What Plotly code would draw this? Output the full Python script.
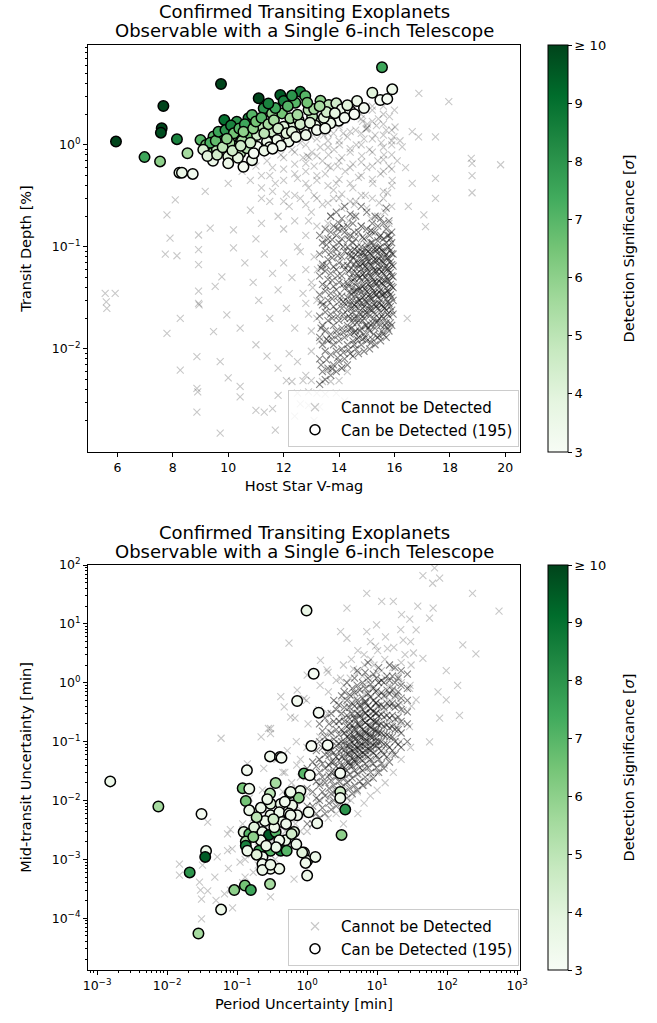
import plotly.graph_objects as go

# ---- data ----
# top panel: host star V magnitude vs transit depth [%], planets that cannot be detected
undet_top = [
    (5.56, 0.035), (5.92, 0.035), (5.6, 0.029), (5.62, 0.025),
    (7.79, 0.206), (8.09, 0.29), (7.9, 0.122), (7.73, 0.085), (8.15, 0.082),
    (8.93, 0.131), (8.93, 0.094), (8.93, 0.067), (9.35, 0.153), (9.17, 0.35),
    (10.0, 0.42), (10.19, 0.147), (10.19, 0.098), (9.53, 0.041), (9.77, 0.051),
    (8.93, 0.037), (8.95, 0.027), (7.79, 0.0142), (8.27, 0.020), (8.27, 0.0062),
    (8.87, 0.0084), (8.87, 0.0041), (8.9, 0.0038), (8.87, 0.0024), (9.71, 0.0075),
    (9.47, 0.0148), (9.71, 0.0015), (10.0, 0.0052), (10.43, 0.0043), (10.43, 0.0034),
    (10.43, 0.016), (9.95, 0.0216), (8.93, 0.028),
    (18.8, 0.66), (18.8, 0.5), (18.8, 0.34), (18.77, 0.74), (19.83, 0.64),
    (17.96, 2.66), (16.88, 3.2), (17.48, 1.2), (17.48, 0.47), (17.48, 0.30),
    (16.87, 1.2), (16.64, 1.35), (17.06, 0.206), (17.12, 0.158), (16.64, 0.42),
    (16.46, 0.020), (16.4, 0.6), (16.28, 0.96), (15.98, 1.2), (16.5, 0.25),
    (10.5, 0.55), (10.8, 0.45), (11.0, 0.62), (11.2, 0.38), (11.4, 0.7),
    (11.5, 0.5), (11.7, 0.42), (11.9, 0.8), (12.0, 0.58), (12.1, 0.33),
    (12.3, 0.9), (12.4, 0.65), (12.5, 0.47), (12.6, 1.05), (12.7, 0.75),
    (12.8, 0.55), (12.9, 0.38), (13.0, 1.2), (13.02, 0.85), (13.1, 0.62),
    (13.2, 0.45), (13.3, 1.35), (13.32, 0.95), (13.4, 0.7), (13.5, 0.52),
    (13.52, 1.55), (13.6, 1.1), (13.62, 0.8), (13.7, 0.6), (13.8, 1.3),
    (13.82, 0.9), (13.9, 0.42), (14.0, 1.5), (14.02, 1.0), (14.1, 0.75),
    (14.2, 1.75), (14.22, 0.55), (14.3, 1.2), (14.4, 0.85), (14.42, 1.9),
    (14.5, 0.65), (14.6, 1.4), (14.62, 1.0), (14.7, 0.48), (14.8, 2.0),
    (14.82, 0.78), (14.9, 1.15), (15.0, 0.6), (15.02, 1.6), (15.1, 0.9),
    (15.2, 2.2), (15.22, 0.42), (15.3, 1.25), (15.4, 0.7), (15.42, 1.8),
    (15.5, 0.52), (15.52, 1.05), (15.6, 2.4), (15.62, 0.8), (15.7, 1.4),
    (15.8, 0.62), (15.82, 1.9), (15.9, 1.0), (15.92, 0.45), (16.0, 2.2),
    (16.02, 1.5), (16.1, 0.7), (16.2, 1.1), (14.5, 0.38), (13.8, 0.36),
    (12.2, 1.1), (11.6, 1.0), (10.9, 0.8), (12.8, 1.35), (14.7, 2.5),
    (15.0, 1.45), (15.03, 1.48), (14.97, 1.43), (12.85, 0.78), (12.92, 0.76),
    (13.45, 1.25), (14.15, 1.3), (14.85, 1.7), (15.35, 1.55), (13.95, 0.62),
    (11.5, 0.28), (11.8, 0.2), (12.0, 0.15), (12.2, 0.25), (12.4, 0.18),
    (12.6, 0.3), (12.8, 0.13), (13.0, 0.22), (13.1, 0.32), (13.2, 0.16),
    (13.4, 0.26), (13.5, 0.12), (13.7, 0.2), (13.8, 0.3), (14.0, 0.15),
    (14.1, 0.24), (14.3, 0.13), (14.5, 0.2), (14.6, 0.28), (14.8, 0.16),
    (15.0, 0.24), (15.2, 0.14), (15.4, 0.2), (15.6, 0.3), (15.8, 0.17),
    (15.9, 0.25), (11.2, 0.17), (10.8, 0.23), (11.0, 0.12), (12.5, 0.1),
    (10.6, 0.07), (10.9, 0.045), (11.1, 0.03), (11.3, 0.085), (11.5, 0.02),
    (11.6, 0.055), (11.8, 0.038), (12.0, 0.07), (12.1, 0.025), (12.3, 0.05),
    (12.4, 0.016), (12.6, 0.09), (12.7, 0.035), (12.8, 0.06), (12.9, 0.022),
    (13.0, 0.045), (13.1, 0.08), (13.2, 0.03), (13.3, 0.012), (13.4, 0.065),
    (11.0, 0.011), (11.4, 0.0085), (11.8, 0.0065), (12.2, 0.009), (12.5, 0.0075),
    (12.8, 0.0055), (13.0, 0.0095),
    (11.0, 0.0025), (11.3, 0.0024), (11.6, 0.0026), (11.8, 0.0035), (12.1, 0.0049),
    (12.3, 0.0048), (12.5, 0.0037), (12.7, 0.0049), (12.9, 0.0038), (13.0, 0.0049),
    (13.2, 0.0037), (13.4, 0.0048), (13.5, 0.0036), (13.7, 0.0048), (13.9, 0.0037),
    (14.0, 0.0049), (14.2, 0.0031), (12.6, 0.0029), (12.9, 0.0028), (13.3, 0.0027),
    (13.6, 0.0062), (14.1, 0.0065), (14.3, 0.006), (12.4, 0.0022), (13.1, 0.002),
    (11.7, 0.0016),
    (13.0, 0.015), (13.05, 0.04), (13.2, 0.02), (13.22, 0.06), (12.8, 0.028),
    (14.1, 0.33), (14.55, 0.26), (14.95, 0.32), (15.45, 0.27), (15.75, 0.34),
    (15.15, 0.19), (14.35, 0.18), (15.65, 0.22), (13.6, 0.17), (12.9, 0.18),
]

# band of undetected planets just below the detected ones: (V-mag, [depths in %])
undet_top_band = [
    (11.2, [0.3, 0.5]), (11.6, [0.35, 0.6]), (12.0, [0.28, 0.45, 0.75]),
    (12.4, [0.32, 0.52, 0.85]), (12.8, [0.26, 0.42, 0.66, 1.0]),
    (13.2, [0.3, 0.5, 0.78, 1.15]), (13.6, [0.27, 0.4, 0.62, 0.95, 1.3]),
    (14.0, [0.3, 0.46, 0.7, 1.1, 1.6]), (14.4, [0.28, 0.42, 0.6, 0.92, 1.35]),
    (14.8, [0.32, 0.5, 0.68, 1.0, 1.3, 1.8]), (15.2, [0.3, 0.46, 0.62, 0.85, 1.15, 1.7, 2.4]),
    (15.6, [0.35, 0.55, 0.72, 0.95, 1.25, 1.6, 2.0]), (15.9, [0.4, 0.58, 0.8, 1.1, 1.4]),
]

# dense Kepler cloud of the top panel: (V-mag, [depths in %])
undet_top_cloud = [
    (13.3, [0.0045, 0.008, 0.013, 0.021, 0.034, 0.052, 0.085, 0.13]),
    (13.4, [0.006, 0.011, 0.017, 0.027, 0.043, 0.068, 0.11]),
    (13.5, [0.005, 0.0095, 0.015, 0.023, 0.037, 0.058, 0.092, 0.15]),
    (13.6, [0.0065, 0.012, 0.019, 0.03, 0.048, 0.075, 0.12]),
    (13.7, [0.0055, 0.0088, 0.014, 0.022, 0.035, 0.055, 0.088, 0.14, 0.2]),
    (13.8, [0.007, 0.011, 0.017, 0.026, 0.041, 0.064, 0.1, 0.16]),
    (13.9, [0.006, 0.0095, 0.015, 0.024, 0.038, 0.06, 0.095, 0.13, 0.22]),
    (14.0, [0.0075, 0.012, 0.019, 0.029, 0.045, 0.07, 0.11, 0.17]),
    (14.1, [0.0065, 0.01, 0.016, 0.025, 0.033, 0.052, 0.08, 0.12, 0.19]),
    (14.2, [0.008, 0.013, 0.02, 0.028, 0.039, 0.06, 0.09, 0.14, 0.25]),
    (14.3, [0.007, 0.011, 0.017, 0.024, 0.032, 0.044, 0.066, 0.1, 0.16]),
    (14.4, [0.009, 0.014, 0.02, 0.027, 0.036, 0.05, 0.072, 0.092, 0.13, 0.21]),
    (14.5, [0.0085, 0.012, 0.018, 0.023, 0.03, 0.04, 0.055, 0.078, 0.11, 0.17]),
    (14.6, [0.01, 0.015, 0.021, 0.026, 0.034, 0.045, 0.062, 0.084, 0.12, 0.2]),
    (14.7, [0.009, 0.013, 0.019, 0.025, 0.031, 0.04, 0.052, 0.068, 0.09, 0.14]),
    (14.8, [0.011, 0.016, 0.022, 0.028, 0.036, 0.047, 0.06, 0.077, 0.1, 0.16, 0.25]),
    (14.9, [0.0095, 0.014, 0.02, 0.026, 0.033, 0.042, 0.055, 0.07, 0.088, 0.12]),
    (15.0, [0.012, 0.017, 0.023, 0.029, 0.037, 0.048, 0.062, 0.08, 0.105, 0.15, 0.22]),
    (15.1, [0.01, 0.015, 0.021, 0.027, 0.034, 0.044, 0.057, 0.073, 0.094, 0.13]),
    (15.2, [0.0125, 0.018, 0.024, 0.031, 0.039, 0.05, 0.065, 0.083, 0.11, 0.17]),
    (15.3, [0.011, 0.016, 0.022, 0.028, 0.036, 0.046, 0.059, 0.076, 0.098, 0.14, 0.2]),
    (15.4, [0.013, 0.019, 0.025, 0.032, 0.041, 0.053, 0.068, 0.087, 0.115, 0.16]),
    (15.5, [0.012, 0.017, 0.023, 0.03, 0.038, 0.049, 0.063, 0.081, 0.1, 0.13, 0.19]),
    (15.6, [0.014, 0.02, 0.026, 0.034, 0.043, 0.055, 0.071, 0.09, 0.12, 0.17]),
    (15.7, [0.013, 0.018, 0.024, 0.031, 0.04, 0.051, 0.066, 0.085, 0.11, 0.15, 0.24]),
    (15.8, [0.015, 0.021, 0.028, 0.036, 0.046, 0.059, 0.076, 0.098, 0.13, 0.18]),
    (15.9, [0.017, 0.024, 0.032, 0.041, 0.052, 0.067, 0.086, 0.11, 0.14]),
    (13.35, [0.007, 0.016, 0.029, 0.062]),
    (13.55, [0.0078, 0.0125, 0.026, 0.041, 0.066, 0.105]),
    (13.75, [0.0064, 0.0125, 0.02, 0.031, 0.047, 0.078, 0.118]),
    (13.95, [0.0082, 0.0135, 0.021, 0.033, 0.052, 0.082, 0.15]),
    (14.15, [0.0092, 0.0145, 0.022, 0.029, 0.043, 0.066, 0.1, 0.155]),
    (14.35, [0.0098, 0.0155, 0.021, 0.029, 0.041, 0.058, 0.083, 0.118]),
    (14.45, [0.016, 0.025, 0.034, 0.046, 0.062, 0.082]),
    (14.55, [0.011, 0.0145, 0.02, 0.027, 0.037, 0.049, 0.068, 0.095, 0.14]),
    (14.65, [0.0125, 0.018, 0.029, 0.038, 0.055, 0.074, 0.1]),
    (14.75, [0.015, 0.022, 0.03, 0.039, 0.05, 0.065, 0.085]),
    (14.85, [0.0125, 0.019, 0.025, 0.032, 0.041, 0.054, 0.069, 0.088, 0.125]),
    (14.95, [0.013, 0.017, 0.022, 0.029, 0.038, 0.05, 0.064, 0.079, 0.097]),
    (15.05, [0.016, 0.025, 0.033, 0.043, 0.056, 0.072, 0.09]),
    (15.15, [0.0115, 0.017, 0.024, 0.031, 0.04, 0.051, 0.066, 0.084, 0.11, 0.145]),
    (15.25, [0.014, 0.02, 0.027, 0.035, 0.045, 0.058, 0.073, 0.094]),
    (15.35, [0.018, 0.026, 0.034, 0.044, 0.058, 0.074, 0.094]),
    (15.45, [0.0135, 0.02, 0.028, 0.036, 0.046, 0.06, 0.076, 0.098, 0.125]),
    (15.55, [0.015, 0.021, 0.027, 0.034, 0.044, 0.057, 0.072, 0.092]),
    (15.65, [0.017, 0.025, 0.035, 0.047, 0.062, 0.08]),
    (15.75, [0.016, 0.022, 0.029, 0.037, 0.048, 0.061, 0.078, 0.1, 0.13]),
    (15.85, [0.018, 0.026, 0.034, 0.043, 0.056, 0.071, 0.092, 0.12]),
    (15.95, [0.022, 0.03, 0.04, 0.051, 0.065, 0.085]),
]

# detected planets (top): V-mag, depth [%], significance [sigma]
det_top = [
    (5.95, 1.08, 10), (6.98, 0.76, 7.5), (7.54, 0.69, 6), (7.66, 2.41, 10),
    (7.6, 1.46, 10), (7.57, 1.32, 9.8), (8.15, 1.14, 8.5), (8.53, 0.83, 5.5),
    (8.24, 0.535, 3.8), (8.33, 0.535, 3.6), (8.72, 0.52, 3.3), (9.0, 1.12, 7),
    (9.74, 3.96, 10), (9.86, 1.76, 9), (10.31, 1.69, 8), (10.73, 1.83, 8.5),
    (11.1, 2.87, 10), (9.29, 0.91, 6), (9.47, 1.21, 7), (9.8, 1.25, 7),
    (10.13, 1.21, 6), (10.25, 0.96, 5), (9.59, 0.91, 5), (10.0, 0.77, 4),
    (10.0, 0.66, 3.5), (10.43, 0.83, 5), (10.67, 0.93, 5), (10.73, 1.21, 6.5),
    (10.86, 0.71, 3.5), (10.55, 0.61, 3.2), (9.45, 0.70, 3.5),
    (15.55, 5.78, 7.5), (11.88, 3.09, 9.5), (12.0, 2.7, 8.5), (12.6, 3.33, 8.5),
    (12.78, 3.02, 7), (11.28, 2.29, 8), (12.42, 2.6, 7), (13.33, 2.72, 6),
    (13.63, 2.47, 5), (13.9, 2.56, 4.5), (13.75, 1.97, 4.5), (14.1, 2.24, 3.5),
    (14.4, 2.17, 3.2), (14.65, 2.7, 3.5), (15.2, 3.25, 4), (15.49, 2.76, 3.1),
    (15.74, 2.83, 3.1), (15.92, 3.51, 3.5), (13.99, 1.73, 3.1), (13.69, 1.63, 3.5),
    (13.33, 1.69, 4), (13.03, 1.9, 5), (13.15, 1.54, 3.5), (12.73, 1.46, 3.5),
    (12.36, 1.57, 4), (12.0, 1.51, 4), (11.58, 1.35, 4.5), (12.18, 1.08, 3.5),
    (11.76, 1.12, 3.5), (11.4, 1.08, 3.5), (11.04, 0.96, 3.2), (10.92, 0.83, 3.1),
    (11.94, 2.04, 6.5), (11.58, 2.04, 6), (12.24, 1.83, 5.5), (12.54, 1.76, 5),
    (12.9, 2.2, 5), (10.86, 1.97, 7), (11.16, 1.51, 5), (11.04, 1.25, 4.5),
    (9.2, 1.0, 6.5), (9.35, 1.05, 7.2), (9.55, 1.1, 6.8), (9.65, 1.35, 7.5),
    (9.9, 1.4, 8), (10.1, 1.55, 8.5), (10.05, 1.05, 5.5), (10.2, 1.3, 6.5),
    (10.4, 1.45, 7), (10.5, 1.1, 5.5), (10.6, 1.6, 7.5), (10.35, 0.75, 3.8),
    (10.55, 1.35, 6), (10.9, 1.45, 6), (11.0, 1.7, 6.5), (11.2, 1.85, 7),
    (11.3, 1.3, 5), (11.45, 1.6, 5.5), (11.5, 0.95, 3.5), (11.65, 1.75, 5.5),
    (11.8, 1.45, 4.5), (11.9, 0.98, 3.3), (12.1, 1.3, 4), (12.3, 1.35, 4),
    (12.45, 1.2, 3.5), (12.6, 1.6, 4.5), (12.5, 1.98, 5.5), (12.8, 1.25, 3.5),
    (12.95, 1.65, 4), (13.1, 2.25, 5.5), (13.2, 1.4, 3.2), (13.45, 1.85, 4),
    (13.5, 1.45, 3.2), (13.55, 2.1, 4.5), (13.85, 2.05, 3.8), (14.2, 1.85, 3.2),
    (14.3, 2.45, 4), (14.55, 2.0, 3), (14.9, 2.3, 3.2), (13.3, 2.4, 5.5),
    (12.15, 2.4, 7), (11.7, 2.3, 7.5), (11.45, 2.55, 8.5), (12.3, 3.05, 8),
    (12.85, 2.6, 6.5), (9.1, 0.9, 4.2), (9.25, 0.78, 4), (9.6, 0.8, 4.5),
    (9.8, 0.95, 5), (9.95, 1.15, 6), (10.15, 0.88, 4.5), (10.8, 1.05, 4.5),
    (11.3, 0.88, 3.5), (11.6, 0.92, 3.2), (10.45, 0.98, 4.5),
]

# bottom panel: period uncertainty [min] vs mid-transit uncertainty [min]
undet_bot = [
    (45, 66), (66, 89), (62, 49), (78, 60), (230, 33), (550, 16.5), (7.1, 33),
    (3.7, 18.5), (0.55, 4.7), (167, 4.4), (257, 3.1), (97, 1.6), (141, 0.9),
    (74, 0.7), (97, 0.51), (78, 0.25), (150, 0.28), (56, 0.099), (0.42, 0.58),
    (0.30, 0.167), (0.059, 0.114), (0.015, 0.00083), (0.015, 0.00054),
    (0.029, 0.00041), (0.038, 0.00029), (0.031, 0.00021), (0.066, 0.00026),
    (0.086, 0.00015), (0.031, 0.000097), (0.30, 0.00023), (0.65, 0.00046),
    (0.031, 0.0059), (0.038, 0.0043), (0.073, 0.0027), (0.073, 0.0014),
    (0.14, 0.042), (0.24, 0.035), (0.28, 0.167), (0.22, 0.12),
    (11.6, 24), (17, 24), (38, 20), (63, 18.5), (56, 12.5), (22.3, 14.3),
    (3.0, 7.4), (3.7, 5.7), (7.1, 7.4), (9.8, 9.6), (23.5, 5.3), (36, 7.9),
    (45, 2.6), (33, 3.2), (29, 0.8), (36, 0.51), (23.5, 0.34), (19, 0.18),
    (1.55, 2.4), (1.92, 1.65), (1.0, 1.35), (0.72, 0.75), (0.47, 0.39),
    (0.30, 0.137), (0.58, 0.26), (0.9, 0.54),
    (1.0, 0.003), (1.05, 0.006), (0.97, 0.012), (1.02, 0.03), (0.99, 0.08), (1.03, 0.2), (0.98, 0.5),
    (1.5, 0.004), (1.45, 0.009), (1.55, 0.02), (1.48, 0.05), (1.52, 0.12), (1.47, 0.35), (1.53, 0.9),
    (2.0, 0.005), (2.05, 0.011), (1.95, 0.025), (2.02, 0.04), (1.98, 0.07), (2.04, 0.15), (1.96, 0.3), (2.01, 0.7), (1.99, 1.5),
    (2.6, 0.006), (2.55, 0.014), (2.65, 0.03), (2.58, 0.055), (2.62, 0.1), (2.57, 0.2), (2.63, 0.45), (2.6, 1.1),
    (3.3, 0.004), (3.25, 0.008), (3.35, 0.018), (3.28, 0.035), (3.32, 0.06), (3.27, 0.09), (3.33, 0.14), (3.3, 0.25), (3.26, 0.5), (3.34, 0.9), (3.3, 2.0),
    (4.2, 0.01), (4.1, 0.022), (4.3, 0.04), (4.15, 0.07), (4.25, 0.11), (4.18, 0.17), (4.22, 0.3), (4.2, 0.6), (4.12, 1.2), (4.28, 2.5),
    (5.3, 0.006), (5.2, 0.014), (5.4, 0.028), (5.25, 0.05), (5.35, 0.08), (5.28, 0.13), (5.32, 0.2), (5.3, 0.35), (5.22, 0.7), (5.38, 1.5), (5.3, 3.5),
    (6.5, 0.009), (6.4, 0.018), (6.6, 0.035), (6.45, 0.06), (6.55, 0.1), (6.48, 0.15), (6.52, 0.25), (6.5, 0.45), (6.42, 0.9), (6.58, 2.0),
    (8.0, 0.012), (7.9, 0.025), (8.1, 0.045), (7.95, 0.075), (8.05, 0.12), (7.98, 0.19), (8.02, 0.3), (8.0, 0.55), (7.92, 1.1), (8.08, 2.5), (8.0, 5.0),
    (10, 0.015), (9.8, 0.03), (10.2, 0.055), (9.9, 0.09), (10.1, 0.14), (9.95, 0.22), (10.05, 0.4), (10, 0.75), (9.85, 1.5), (10.15, 3.5),
    (13, 0.02), (12.7, 0.04), (13.3, 0.07), (12.9, 0.12), (13.1, 0.2), (12.8, 0.35), (13.2, 0.6), (13, 1.2), (12.85, 2.5), (13.15, 6),
    (17, 0.03), (16.6, 0.06), (17.4, 0.11), (16.8, 0.2), (17.2, 0.4), (17, 0.8), (16.7, 1.8), (17.3, 4),
    (22, 0.05), (21.5, 0.1), (22.5, 0.2), (21.8, 0.45), (22.2, 1.0), (22, 2.2), (21.7, 8),
    (30, 0.08), (29, 0.18), (31, 0.4), (29.5, 0.9), (30.5, 2.0), (30, 5), (29.2, 12),
    (0.7, 0.002), (0.68, 0.004), (0.72, 0.008), (0.69, 0.016), (0.71, 0.04), (0.7, 0.1), (0.67, 0.25),
    (0.5, 0.0015), (0.49, 0.003), (0.51, 0.006), (0.5, 0.012), (0.48, 0.03), (0.52, 0.07),
    (0.35, 0.001), (0.34, 0.0022), (0.36, 0.0045), (0.35, 0.009), (0.33, 0.02), (0.37, 0.05),
    (0.25, 0.0008), (0.24, 0.0017), (0.26, 0.0035), (0.25, 0.007), (0.23, 0.015),
    (0.17, 0.0006), (0.16, 0.0012), (0.18, 0.0025), (0.17, 0.005), (0.15, 0.011),
    (0.12, 0.0004), (0.11, 0.0009), (0.13, 0.0019), (0.12, 0.004),
    (0.08, 0.0003), (0.075, 0.0007), (0.085, 0.0015), (0.08, 0.0032),
    (0.05, 0.0002), (0.048, 0.0005), (0.052, 0.0011), (0.03, 0.0003), (0.032, 0.0008),
    (6.7, 0.65), (8.3, 0.8), (10.5, 1.0), (5.0, 0.55), (3.8, 0.38), (2.9, 0.22),
    (3.0, 1.2), (4.6, 1.7), (6.2, 1.3), (9.0, 2.0), (11.5, 1.6), (15, 0.9),
    (15, 0.45), (19, 0.6), (20, 1.3), (25, 3), (14, 3.8), (9.5, 4.2), (6.5, 3),
    (0.13, 0.0005), (0.13, 0.001), (0.13, 0.0022), (0.2, 0.0008), (0.2, 0.0016),
    (0.2, 0.0033), (0.3, 0.0012), (0.3, 0.0025), (0.3, 0.005), (0.3, 0.01),
    (0.45, 0.0018), (0.45, 0.0035), (0.45, 0.007), (0.45, 0.014), (0.45, 0.03),
    (0.6, 0.0025), (0.6, 0.005), (0.6, 0.01), (0.6, 0.02), (0.8, 0.003),
    (0.8, 0.006), (0.8, 0.012), (0.8, 0.025), (0.8, 0.05),
]

# dense diagonal cloud of the bottom panel: (period unc., [mid-transit unc.])
undet_bot_cloud = [
    (1.0, [0.004, 0.008, 0.016, 0.035]),
    (1.2, [0.004, 0.008, 0.014, 0.025, 0.045, 0.09]),
    (1.5, [0.005, 0.01, 0.018, 0.03, 0.05, 0.1, 0.2]),
    (1.8, [0.006, 0.012, 0.02, 0.035, 0.06, 0.12, 0.25]),
    (2.2, [0.007, 0.013, 0.022, 0.03, 0.045, 0.07, 0.14, 0.3]),
    (2.6, [0.008, 0.015, 0.025, 0.038, 0.055, 0.085, 0.16, 0.35]),
    (3.1, [0.009, 0.017, 0.028, 0.04, 0.055, 0.075, 0.1, 0.16, 0.3, 0.6]),
    (3.7, [0.011, 0.02, 0.032, 0.045, 0.062, 0.085, 0.12, 0.18, 0.28, 0.5, 1.0]),
    (4.4, [0.013, 0.024, 0.038, 0.052, 0.07, 0.095, 0.13, 0.19, 0.3, 0.45, 0.8]),
    (5.2, [0.015, 0.028, 0.042, 0.058, 0.078, 0.1, 0.14, 0.2, 0.3, 0.5, 0.9, 1.6]),
    (6.2, [0.018, 0.032, 0.048, 0.065, 0.088, 0.12, 0.16, 0.23, 0.35, 0.55, 1.0]),
    (7.4, [0.02, 0.036, 0.055, 0.075, 0.1, 0.135, 0.19, 0.27, 0.4, 0.65, 1.2, 2.2]),
    (8.8, [0.024, 0.042, 0.064, 0.088, 0.12, 0.16, 0.22, 0.32, 0.5, 0.8, 1.4]),
    (10.5, [0.03, 0.05, 0.075, 0.1, 0.14, 0.19, 0.27, 0.4, 0.6, 1.0, 1.8]),
    (12.5, [0.035, 0.06, 0.09, 0.13, 0.18, 0.26, 0.38, 0.6, 1.0]),
    (15, [0.045, 0.08, 0.12, 0.17, 0.25, 0.4, 0.65, 1.1, 2.0]),
    (18, [0.06, 0.1, 0.16, 0.24, 0.38, 0.6, 1.0, 1.8]),
    (22, [0.08, 0.14, 0.22, 0.35, 0.55, 0.9, 1.6]),
    (27, [0.1, 0.2, 0.32, 0.5, 0.8, 1.4]),
    (4.0, [0.045, 0.065, 0.09, 0.13, 0.2]), (4.8, [0.05, 0.075, 0.11, 0.16, 0.24]),
    (5.7, [0.06, 0.085, 0.12, 0.18, 0.27, 0.4]), (6.8, [0.07, 0.1, 0.14, 0.21, 0.3, 0.45]),
    (8.1, [0.08, 0.12, 0.17, 0.25, 0.36]), (9.6, [0.1, 0.15, 0.21, 0.3, 0.45]),
    (1.35, [0.006, 0.011, 0.021, 0.038, 0.07]),
    (1.65, [0.0075, 0.014, 0.025, 0.042, 0.078, 0.15]),
    (2.05, [0.009, 0.016, 0.027, 0.04, 0.058, 0.1, 0.2]),
    (2.4, [0.01, 0.018, 0.03, 0.045, 0.065, 0.11, 0.22, 0.5]),
    (2.85, [0.012, 0.021, 0.034, 0.048, 0.068, 0.092, 0.13, 0.22, 0.42]),
    (3.4, [0.014, 0.024, 0.037, 0.052, 0.072, 0.1, 0.14, 0.22, 0.38, 0.7]),
    (4.05, [0.016, 0.028, 0.04, 0.058, 0.08, 0.11, 0.16, 0.24, 0.38, 0.62]),
    (4.75, [0.018, 0.032, 0.046, 0.064, 0.088, 0.12, 0.17, 0.25, 0.4, 0.68, 1.2]),
    (5.65, [0.021, 0.036, 0.052, 0.072, 0.098, 0.13, 0.19, 0.28, 0.42, 0.75]),
    (6.75, [0.025, 0.042, 0.06, 0.083, 0.11, 0.15, 0.21, 0.31, 0.48, 0.8, 1.5]),
    (8.05, [0.03, 0.05, 0.07, 0.095, 0.13, 0.18, 0.25, 0.37, 0.58, 0.95]),
    (9.7, [0.036, 0.058, 0.085, 0.115, 0.16, 0.22, 0.31, 0.46, 0.72, 1.2]),
    (11.5, [0.042, 0.07, 0.1, 0.14, 0.2, 0.29, 0.42, 0.68, 1.1]),
    (13.8, [0.055, 0.09, 0.13, 0.19, 0.28, 0.45, 0.75, 1.3]),
    (16.5, [0.07, 0.12, 0.18, 0.28, 0.45, 0.75, 1.3]),
    (20, [0.09, 0.16, 0.26, 0.42, 0.7, 1.2]),
]

# detected planets (bottom): period unc., mid-transit unc., significance
det_bot = [
    (0.00154, 0.0211, 3.5), (0.0075, 0.0079, 5.5), (0.031, 0.0059, 3.2),
    (0.036, 0.00138, 3.5), (0.035, 0.0011, 9.5), (0.021, 0.0006, 8),
    (0.028, 0.000055, 5.5), (0.059, 0.00014, 3.5), (0.091, 0.0003, 6),
    (0.129, 0.00036, 6.5), (0.157, 0.0003, 7.5), (0.295, 0.00038, 5.5),
    (0.98, 16.8, 3.6), (1.24, 1.42, 3.1), (0.72, 0.49, 3.2), (1.46, 0.31, 3.1),
    (1.15, 0.084, 3.1), (1.96, 0.087, 3.1), (0.295, 0.056, 3.3), (0.41, 0.055, 3.3),
    (0.43, 0.053, 3.2), (0.138, 0.0325, 3.2), (0.9, 0.0286, 7), (1.09, 0.0268, 3.2),
    (2.97, 0.029, 3.1), (0.355, 0.0198, 5.5), (0.12, 0.0161, 6.5), (0.149, 0.0158, 3.5),
    (0.295, 0.0131, 5), (0.567, 0.0134, 3.5), (0.8, 0.0145, 3.4), (0.76, 0.0111, 6),
    (2.97, 0.0139, 4.5), (2.97, 0.011, 3.4), (0.133, 0.0098, 6.5), (0.149, 0.0068, 3.5),
    (0.218, 0.0075, 3.5), (0.30, 0.0088, 4), (0.42, 0.0087, 3.5), (0.61, 0.0082, 3.5),
    (0.30, 0.0056, 3.5), (0.40, 0.0063, 3.5), (0.55, 0.006, 3.5), (0.72, 0.0056, 3.4),
    (1.05, 0.0063, 3.3), (1.39, 0.0041, 3.4), (3.5, 0.0070, 8), (3.1, 0.0026, 6),
    (0.124, 0.0029, 4), (0.149, 0.0027, 7), (0.175, 0.0035, 4), (0.23, 0.0029, 3.5),
    (0.285, 0.0026, 9.5), (0.355, 0.0029, 7), (0.44, 0.0043, 3.5), (0.65, 0.0029, 4),
    (0.49, 0.0021, 3.5), (0.40, 0.0021, 3.3), (0.218, 0.0021, 3.5), (0.133, 0.0020, 5.5),
    (0.133, 0.0017, 8.5), (0.14, 0.0014, 3.5), (0.206, 0.0014, 7.5), (0.30, 0.0014, 7),
    (0.42, 0.0014, 8.5), (0.51, 0.0014, 7), (0.23, 0.0011, 3.3), (0.23, 0.00083, 3.3),
    (0.30, 0.00069, 3.4), (0.40, 0.00069, 3.4), (0.9, 0.0013, 4), (1.0, 0.00095, 3.4),
    (1.31, 0.0011, 3.5), (1.0, 0.00053, 3.5), (0.23, 0.00066, 3.5), (0.30, 0.00081, 3.5),
    (0.85, 0.0013, 4), (0.95, 0.00087, 3.4), (0.34, 0.0035, 3.5), (0.58, 0.0139, 3.5),
    (0.58, 0.0056, 3.5), (0.6, 0.0027, 4.5), (0.25, 0.0045, 3.5), (0.19, 0.0052, 5),
    (0.27, 0.0105, 3.5), (0.48, 0.0095, 3.3), (0.17, 0.0024, 6), (0.36, 0.0016, 3.5),
    (0.19, 0.0012, 4), (0.7, 0.0018, 3.5), (0.33, 0.0048, 4.5), (0.5, 0.004, 3.5),
    (0.26, 0.0017, 3.6),
]

n_detected = 195
sig_ticks = [3, 4, 5, 6, 7, 8, 9, 10]
sig_ticktext = ["3", "4", "5", "6", "7", "8", "9", "≥ 10"]
vmag_ticks = [6, 8, 10, 12, 14, 16, 18, 20]
depth_ticks = [0.01, 0.1, 1]
depth_ticktext = ["10<sup>−2</sup>", "10<sup>−1</sup>", "10<sup>0</sup>"]
per_ticks = [1e-3, 1e-2, 1e-1, 1, 10, 100, 1000]
per_ticktext = ["10<sup>−3</sup>", "10<sup>−2</sup>", "10<sup>−1</sup>", "10<sup>0</sup>",
                "10<sup>1</sup>", "10<sup>2</sup>", "10<sup>3</sup>"]
mid_ticks = [1e-4, 1e-3, 1e-2, 1e-1, 1, 10, 100]
mid_ticktext = ["10<sup>−4</sup>", "10<sup>−3</sup>", "10<sup>−2</sup>", "10<sup>−1</sup>",
                "10<sup>0</sup>", "10<sup>1</sup>", "10<sup>2</sup>"]

# matplotlib "Greens"
GREENS = [
    [0.0, "#f7fcf5"], [0.125, "#e5f5e0"], [0.25, "#c7e9c0"], [0.375, "#a1d99b"],
    [0.5, "#74c476"], [0.625, "#41ab5d"], [0.75, "#238b45"], [0.875, "#006d2c"],
    [1.0, "#00441b"],
]
FONT = "DejaVu Sans, Verdana, sans-serif"
TITLE_1 = "Confirmed Transiting Exoplanets"
TITLE_2 = "Observable with a Single 6-inch Telescope"
CBAR_LABEL = "Detection Significance [<i>σ</i>]"
X_LIGHT = "rgba(0,0,0,0.22)"
X_DENSE = "rgba(0,0,0,0.48)"

W, H = 657, 1023


def px_x(p):
    return p / W


def px_y(p):
    return 1 - p / H


def minor_log(lo, hi):
    return [k * 10 ** e for e in range(lo, hi) for k in range(2, 10)]


def flatten(points, cols):
    xs = [p[0] for p in points]
    ys = [p[1] for p in points]
    for x, col in cols:
        xs += [x] * len(col)
        ys += col
    return xs, ys


fig = go.Figure()

panels = [
    dict(light=flatten(undet_top, undet_top_band), dense=flatten([], undet_top_cloud),
         det=det_top, xa="x", ya="y", cax="coloraxis", leg="legend"),
    dict(light=flatten(undet_bot, []), dense=flatten([], undet_bot_cloud),
         det=det_bot, xa="x2", ya="y2", cax="coloraxis2", leg="legend2"),
]

for p in panels:
    for (ux, uy), col in [(p["light"], X_LIGHT), (p["dense"], X_DENSE)]:
        fig.add_trace(go.Scatter(
            x=ux, y=uy, mode="markers",
            xaxis=p["xa"], yaxis=p["ya"],
            marker=dict(symbol="x-thin", size=7, color=col,
                        line=dict(width=1.1, color=col)),
            showlegend=False, hoverinfo="skip",
        ))
    fig.add_trace(go.Scatter(
        x=[d[0] for d in p["det"]],
        y=[d[1] for d in p["det"]],
        mode="markers",
        xaxis=p["xa"], yaxis=p["ya"],
        marker=dict(symbol="circle", size=10.5, color=[d[2] for d in p["det"]],
                    coloraxis=p["cax"], line=dict(width=1.5, color="black")),
        showlegend=False,
    ))
    # legend entries
    fig.add_trace(go.Scatter(
        x=[None], y=[None], mode="markers", xaxis=p["xa"], yaxis=p["ya"],
        name="Cannot be Detected", legend=p["leg"],
        marker=dict(symbol="x-thin", size=8, color="#c8c8c8",
                    line=dict(width=1.2, color="#c8c8c8")),
    ))
    fig.add_trace(go.Scatter(
        x=[None], y=[None], mode="markers", xaxis=p["xa"], yaxis=p["ya"],
        name=f"Can be Detected ({n_detected})", legend=p["leg"],
        marker=dict(symbol="circle", size=10, color="white",
                    line=dict(width=1.5, color="black")),
    ))

axis_common = dict(
    showline=True, mirror=True, linecolor="black", linewidth=1,
    ticks="outside", ticklen=4, tickcolor="black", showgrid=False,
    zeroline=False, automargin=False,
    tickfont=dict(family=FONT, size=12.5, color="black"),
)
minor_style = dict(ticks="outside", ticklen=2, tickcolor="black", showgrid=False)
label_font = dict(family=FONT, size=14.5, color="black")

top_dom = [px_y(452), px_y(45)]
bot_dom = [px_y(970), px_y(565)]
x_dom = [px_x(88), px_x(520)]


def cbar(top, bottom):
    return dict(
        x=px_x(548), xanchor="left", y=px_y(top), yanchor="top",
        len=(bottom - top) / H, thickness=20, xpad=0, ypad=0,
        outlinewidth=1, outlinecolor="black",
        tickmode="array", tickvals=sig_ticks, ticktext=sig_ticktext,
        ticks="outside", ticklen=4, tickcolor="black",
        tickfont=dict(family=FONT, size=13, color="black"),
    )


legend_common = dict(
    xanchor="right", yanchor="bottom", bgcolor="rgba(255,255,255,0.85)",
    bordercolor="#cccccc", borderwidth=1,
    font=dict(family=FONT, size=15, color="black"),
    tracegroupgap=2, itemwidth=42,
)

annotations = []
for top, bottom in [(45, 452), (565, 970)]:
    for text, dy in [(TITLE_1, 33), (TITLE_2, 14)]:
        annotations.append(dict(
            text=text, x=px_x(304), y=px_y(top - dy), xref="paper", yref="paper",
            xanchor="center", yanchor="middle", showarrow=False,
            font=dict(family=FONT, size=18, color="black")))
    annotations.append(dict(
        text=CBAR_LABEL, x=px_x(628), y=px_y((top + bottom) / 2), xref="paper",
        yref="paper", xanchor="center", yanchor="middle", textangle=-90,
        showarrow=False, font=label_font))

fig.update_layout(
    width=W, height=H,
    margin=dict(l=0, r=0, t=0, b=0),
    paper_bgcolor="white", plot_bgcolor="white",
    font=dict(family=FONT, color="black"),
    xaxis=dict(axis_common, domain=x_dom, range=[4.94, 20.53], anchor="y",
               tickmode="array", tickvals=vmag_ticks,
               title=dict(text="Host Star V-mag", standoff=6, font=label_font)),
    yaxis=dict(axis_common, domain=top_dom, type="log", range=[-3.01, 0.98], anchor="x",
               tickmode="array", tickvals=depth_ticks, ticktext=depth_ticktext,
               minor=dict(minor_style, tickmode="array", tickvals=minor_log(-4, 1)),
               title=dict(text="Transit Depth [%]", standoff=16, font=label_font)),
    xaxis2=dict(axis_common, domain=x_dom, type="log", range=[-3.13, 3.04], anchor="y2",
                tickmode="array", tickvals=per_ticks, ticktext=per_ticktext,
                minor=dict(minor_style, tickmode="array", tickvals=minor_log(-4, 4)),
                title=dict(text="Period Uncertainty [min]", standoff=6, font=label_font)),
    yaxis2=dict(axis_common, domain=bot_dom, type="log", range=[-4.88, 2.0], anchor="x2",
                tickmode="array", tickvals=mid_ticks, ticktext=mid_ticktext,
                minor=dict(minor_style, tickmode="array", tickvals=minor_log(-5, 2)),
                title=dict(text="Mid-transit Uncertainty [min]", standoff=16,
                           font=label_font)),
    coloraxis=dict(colorscale=GREENS, cmin=3, cmax=10, colorbar=cbar(45, 452)),
    coloraxis2=dict(colorscale=GREENS, cmin=3, cmax=10, colorbar=cbar(565, 970)),
    legend=dict(legend_common, x=px_x(519), y=px_y(447)),
    legend2=dict(legend_common, x=px_x(519), y=px_y(966)),
    annotations=annotations,
)

fig.write_html("out.html", config={"displayModeBar": False},
               post_script="document.body.style.margin = '0';")
